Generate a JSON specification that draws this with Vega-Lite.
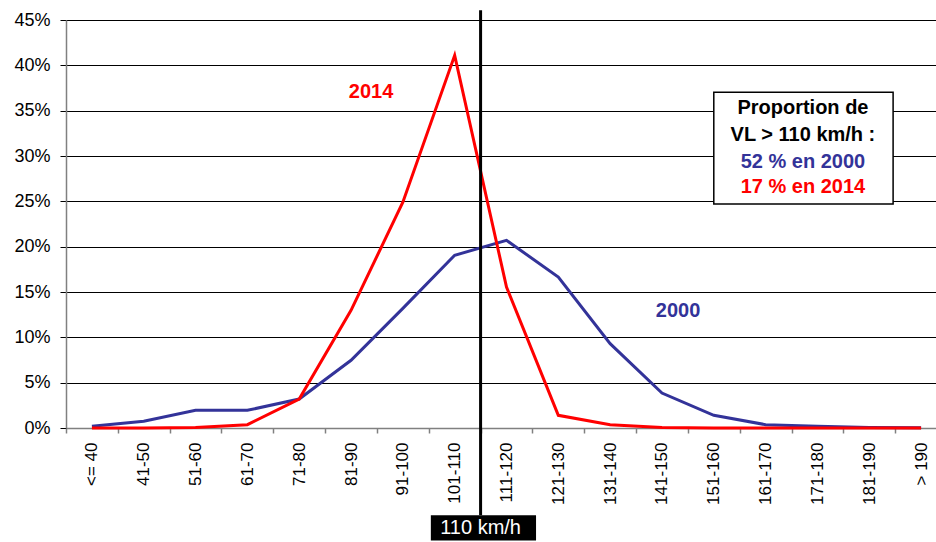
{
  "$schema": "https://vega.github.io/schema/vega-lite/v6.json",
  "width": 870,
  "height": 408,
  "autosize": {"type": "none"},
  "padding": {"left": 66, "top": 20, "right": 0, "bottom": 114},
  "background": "white",
  "config": {
    "view": {"stroke": null},
    "font": "Liberation Sans",
    "text": {"font": "Liberation Sans"}
  },
  "resolve": {"scale": {"x": "independent"}},
  "layer": [
    {
      "data": {
        "values": [
          {"speed": "<= 40", "year": "2000", "share": 0.002},
          {"speed": "41-50", "year": "2000", "share": 0.0074},
          {"speed": "51-60", "year": "2000", "share": 0.0195},
          {"speed": "61-70", "year": "2000", "share": 0.0195},
          {"speed": "71-80", "year": "2000", "share": 0.032},
          {"speed": "81-90", "year": "2000", "share": 0.0747},
          {"speed": "91-100", "year": "2000", "share": 0.132},
          {"speed": "101-110", "year": "2000", "share": 0.1905},
          {"speed": "111-120", "year": "2000", "share": 0.207},
          {"speed": "121-130", "year": "2000", "share": 0.1665},
          {"speed": "131-140", "year": "2000", "share": 0.093},
          {"speed": "141-150", "year": "2000", "share": 0.0386},
          {"speed": "151-160", "year": "2000", "share": 0.014},
          {"speed": "161-170", "year": "2000", "share": 0.0037},
          {"speed": "171-180", "year": "2000", "share": 0.002},
          {"speed": "181-190", "year": "2000", "share": 0.0005},
          {"speed": "> 190", "year": "2000", "share": 0.0002},
          {"speed": "<= 40", "year": "2014", "share": 0.0},
          {"speed": "41-50", "year": "2014", "share": 0.0},
          {"speed": "51-60", "year": "2014", "share": 0.0005},
          {"speed": "61-70", "year": "2014", "share": 0.0037},
          {"speed": "71-80", "year": "2014", "share": 0.032},
          {"speed": "81-90", "year": "2014", "share": 0.1298},
          {"speed": "91-100", "year": "2014", "share": 0.249},
          {"speed": "101-110", "year": "2014", "share": 0.411},
          {"speed": "111-120", "year": "2014", "share": 0.1555},
          {"speed": "121-130", "year": "2014", "share": 0.014},
          {"speed": "131-140", "year": "2014", "share": 0.0037},
          {"speed": "141-150", "year": "2014", "share": 0.0005},
          {"speed": "151-160", "year": "2014", "share": 0.0},
          {"speed": "161-170", "year": "2014", "share": 0.0},
          {"speed": "171-180", "year": "2014", "share": 0.0},
          {"speed": "181-190", "year": "2014", "share": 0.0},
          {"speed": "> 190", "year": "2014", "share": 0.0}
        ]
      },
      "mark": {"type": "line", "strokeWidth": 3, "interpolate": "linear"},
      "encoding": {
        "x": {
          "field": "speed",
          "type": "nominal",
          "sort": null,
          "scale": {"type": "band", "range": [0, 881], "paddingInner": 0, "paddingOuter": 0},
          "axis": {
            "title": null,
            "labelAngle": 270,
            "labelFontSize": 17,
            "labelColor": "#000000",
            "labelFont": "Liberation Sans",
            "labelPadding": 9,
            "tickBand": "extent",
            "tickSize": 5,
            "tickColor": "#808080",
            "tickWidth": 1.5,
            "domainColor": "#808080",
            "domainWidth": 1.5,
            "grid": false
          }
        },
        "y": {
          "field": "share",
          "type": "quantitative",
          "scale": {"domain": [0, 0.45], "nice": false, "zero": false},
          "axis": {
            "title": null,
            "values": [0, 0.05, 0.1, 0.15, 0.2, 0.25, 0.3, 0.35, 0.4, 0.45],
            "format": ".0%",
            "labelFontSize": 18,
            "labelColor": "#000000",
            "labelFont": "Liberation Sans",
            "labelPadding": 10,
            "tickSize": 6,
            "tickColor": "#000000",
            "tickWidth": 1,
            "domainColor": "#808080",
            "domainWidth": 1.5,
            "grid": true,
            "gridColor": "#000000",
            "gridWidth": 1,
            "gridOpacity": 1
          }
        },
        "color": {
          "field": "year",
          "type": "nominal",
          "scale": {"domain": ["2000", "2014"], "range": ["#333399", "#ff0000"]},
          "legend": null
        }
      }
    },
    {
      "data": {"values": [{}]},
      "mark": {"type": "rule", "strokeWidth": 3, "color": "#000000"},
      "encoding": {
        "x": {"datum": 8, "type": "quantitative", "scale": {"domain": [0, 17], "range": [0, 881]}, "axis": null},
        "y": {"datum": 0.4607, "type": "quantitative"},
        "y2": {"datum": -0.0963}
      }
    },
    {
      "data": {"values": [{}]},
      "mark": {"type": "rect", "color": "#000000"},
      "encoding": {
        "x": {"datum": 7.04, "type": "quantitative", "scale": {"domain": [0, 17], "range": [0, 881]}, "axis": null},
        "x2": {"datum": 9.07},
        "y": {"datum": -0.0963, "type": "quantitative"},
        "y2": {"datum": -0.124}
      }
    },
    {
      "data": {"values": [{}]},
      "mark": {"type": "text", "text": "110 km/h", "color": "#ffffff", "fontSize": 20, "align": "center", "baseline": "middle"},
      "encoding": {
        "x": {"datum": 8, "type": "quantitative", "scale": {"domain": [0, 17], "range": [0, 881]}, "axis": null},
        "y": {"datum": -0.1105, "type": "quantitative"}
      }
    },
    {
      "data": {"values": [{}]},
      "mark": {"type": "rect", "fill": "#ffffff", "stroke": "#000000", "strokeWidth": 1.5},
      "encoding": {
        "x": {"datum": 12.5, "type": "quantitative", "scale": {"domain": [0, 17], "range": [0, 881]}, "axis": null},
        "x2": {"datum": 15.96},
        "y": {"datum": 0.3702, "type": "quantitative"},
        "y2": {"datum": 0.247}
      }
    },
    {
      "data": {"values": [{}]},
      "mark": {"type": "text", "text": "Proportion de", "color": "#000000", "fontSize": 20, "fontWeight": "bold", "align": "center", "baseline": "middle"},
      "encoding": {
        "x": {"datum": 14.22, "type": "quantitative", "scale": {"domain": [0, 17], "range": [0, 881]}, "axis": null},
        "y": {"datum": 0.3526, "type": "quantitative"}
      }
    },
    {
      "data": {"values": [{}]},
      "mark": {"type": "text", "text": "VL > 110 km/h :", "color": "#000000", "fontSize": 20, "fontWeight": "bold", "align": "center", "baseline": "middle"},
      "encoding": {
        "x": {"datum": 14.22, "type": "quantitative", "scale": {"domain": [0, 17], "range": [0, 881]}, "axis": null},
        "y": {"datum": 0.3228, "type": "quantitative"}
      }
    },
    {
      "data": {"values": [{}]},
      "mark": {"type": "text", "text": "52 % en 2000", "color": "#333399", "fontSize": 20, "fontWeight": "bold", "align": "center", "baseline": "middle"},
      "encoding": {
        "x": {"datum": 14.22, "type": "quantitative", "scale": {"domain": [0, 17], "range": [0, 881]}, "axis": null},
        "y": {"datum": 0.293, "type": "quantitative"}
      }
    },
    {
      "data": {"values": [{}]},
      "mark": {"type": "text", "text": "17 % en 2014", "color": "#ff0000", "fontSize": 20, "fontWeight": "bold", "align": "center", "baseline": "middle"},
      "encoding": {
        "x": {"datum": 14.22, "type": "quantitative", "scale": {"domain": [0, 17], "range": [0, 881]}, "axis": null},
        "y": {"datum": 0.2655, "type": "quantitative"}
      }
    },
    {
      "data": {"values": [{}]},
      "mark": {"type": "text", "text": "2014", "color": "#ff0000", "fontSize": 20, "fontWeight": "bold", "align": "center", "baseline": "middle"},
      "encoding": {
        "x": {"datum": 5.886, "type": "quantitative", "scale": {"domain": [0, 17], "range": [0, 881]}, "axis": null},
        "y": {"datum": 0.3702, "type": "quantitative"}
      }
    },
    {
      "data": {"values": [{}]},
      "mark": {"type": "text", "text": "2000", "color": "#333399", "fontSize": 20, "fontWeight": "bold", "align": "center", "baseline": "middle"},
      "encoding": {
        "x": {"datum": 11.81, "type": "quantitative", "scale": {"domain": [0, 17], "range": [0, 881]}, "axis": null},
        "y": {"datum": 0.1287, "type": "quantitative"}
      }
    }
  ]
}
